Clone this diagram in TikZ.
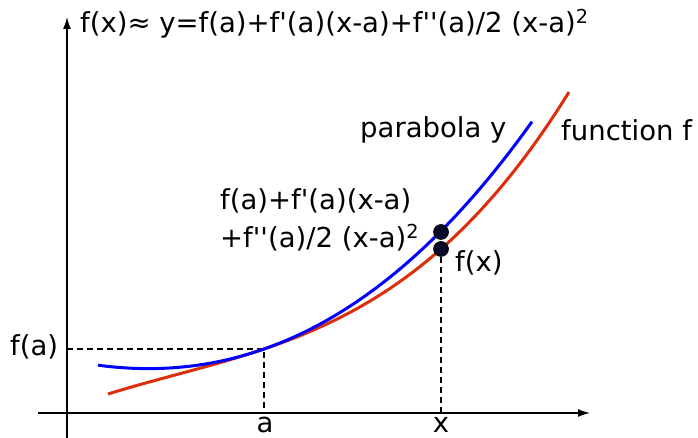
\documentclass[tikz,border=0pt]{standalone}
\usepackage{fontspec}
\setmainfont{DejaVu Sans}[Ligatures=TeXOff]
\usepackage{tikz}
\usetikzlibrary{arrows.meta}
\definecolor{fred}{RGB}{222,45,10}
\definecolor{pblue}{RGB}{0,0,255}
\definecolor{dotc}{RGB}{10,10,40}
\tikzset{
  lbl/.style={font=\fontsize{27.5}{38}\selectfont, inner sep=0pt},
  axis/.style={line width=1.4pt, -{Latex[length=12pt,width=8pt]}},
  guide/.style={line width=1.1pt, dash pattern=on 6pt off 4pt},
  curve/.style={line width=3pt},
  dot/.style={circle, fill=dotc, draw=black, line width=0.6pt, inner sep=0pt, minimum size=15pt},
}

\begin{document}
\begin{tikzpicture}[x=1pt, y=1pt]
    \useasboundingbox (0,0) rectangle (698,438);

    % Les axes
    \coordinate (xstart) at (38,25);
    \coordinate (xend) at (590,25);
    \coordinate (ybot) at (67,0);
    \coordinate (yend) at (67,421);
    \draw[axis] (xstart) -- (xend);
    \draw[axis] (ybot) -- (yend);

    % Le point (a, f(a)) et ses projections
    \coordinate (A) at (264,89);
    \coordinate (fa) at (67,89);
    \coordinate (a) at (264,25);
    \draw[guide] (fa) -- (A) -- (a);

    % La fonction f (rouge)
    \draw[curve, fred] plot[domain=-1.56:3.05, samples=80, smooth]
        ({264+100*\x}, {89+33.79*\x+7.693*(\x)^2+2.903*(\x)^3});

    % La parabole y (bleue)
    \draw[curve, pblue] plot[domain=-1.66:2.68, samples=80, smooth]
        ({264+100*\x}, {89+35*\x+16.5*(\x)^2+0.78*(\x)^3});

    % Les points en x
    \coordinate (x) at (441,25);
    \node[dot] (P) at (441,206) {};
    \node[dot] (F) at (441,189) {};
    \draw[guide] (F) -- (x);

    % Les textes
    \node[lbl, anchor=base west] (title) at (80,405)
        {f(x)≈ y=f(a)+f'(a)(x-a)+f''(a)/2 (x-a)\textsuperscript{2}};
    \node[lbl, anchor=base west] (lfa) at (10,82) {f(a)};
    \node[lbl, anchor=base] (la) at (265,5) {a};
    \node[lbl, anchor=base] (lx) at (441,5) {x};
    \node[lbl, anchor=base west] (lfx) at (455,166) {f(x)};
    \node[lbl, anchor=base west] (lpar) at (360,300) {parabola y};
    \node[lbl, anchor=base west] (lfun) at (561,297) {function f};
    \node[lbl, anchor=west, align=left] (lval) at (220,218)
        {f(a)+f'(a)(x-a)\\+f''(a)/2 (x-a)\textsuperscript{2}};
\end{tikzpicture}
\end{document}
